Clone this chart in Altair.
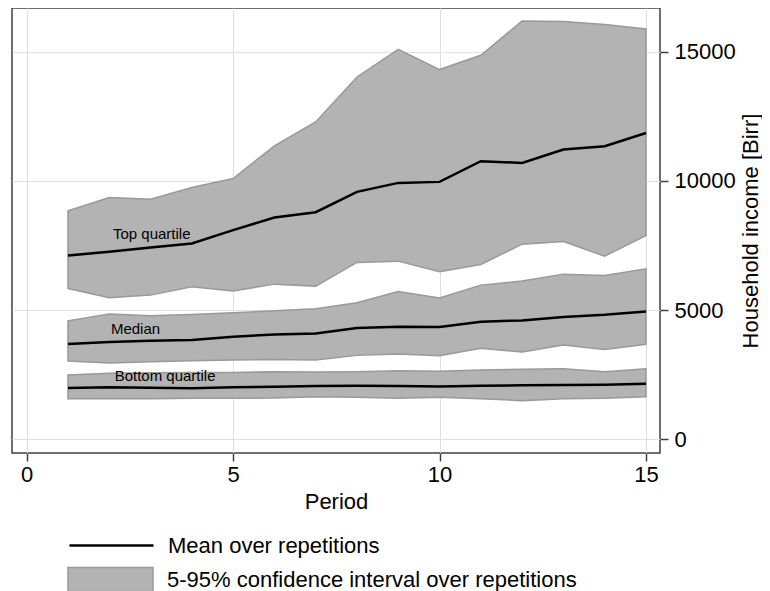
import altair as alt
import pandas as pd

periods = list(range(1, 16))

top_mean = [7115, 7255, 7425, 7580, 8094, 8585, 8790, 9575, 9923, 9962, 10762, 10696, 11214, 11342, 11856]
top_hi = [8840, 9358, 9292, 9745, 10093, 11354, 12282, 14022, 15093, 14308, 14861, 16187, 16164, 16048, 15878]
top_lo = [5839, 5476, 5580, 5901, 5735, 6005, 5928, 6845, 6895, 6481, 6767, 7552, 7657, 7088, 7889]

med_mean = [3685, 3763, 3813, 3840, 3968, 4060, 4099, 4304, 4355, 4343, 4548, 4602, 4729, 4818, 4950]
med_hi = [4587, 4845, 4781, 4834, 4896, 4973, 5050, 5282, 5720, 5465, 5967, 6122, 6392, 6342, 6597]
med_lo = [3028, 2950, 3001, 3040, 3066, 3093, 3066, 3248, 3298, 3233, 3519, 3376, 3647, 3480, 3674]

bot_mean = [1984, 2010, 1997, 1971, 2010, 2036, 2061, 2074, 2061, 2048, 2074, 2088, 2100, 2113, 2151]
bot_hi = [2487, 2552, 2577, 2590, 2590, 2615, 2603, 2615, 2654, 2630, 2680, 2707, 2732, 2615, 2732]
bot_lo = [1570, 1570, 1570, 1585, 1585, 1597, 1648, 1623, 1585, 1623, 1570, 1494, 1570, 1585, 1648]

group_names = ["Top quartile", "Median", "Bottom quartile"]
label_x = [2.09, 2.04, 2.13]
label_y = [7745, 4060, 2266]

mean_label = "Mean over repetitions"
ci_label = "5-95% confidence interval over repetitions"

rows = []
for g, m, lo, hi in zip(group_names,
                        [top_mean, med_mean, bot_mean],
                        [top_lo, med_lo, bot_lo],
                        [top_hi, med_hi, bot_hi]):
    for p, mv, lv, hv in zip(periods, m, lo, hi):
        rows.append({"period": p, "group": g, "mean": mv, "lo": lv, "hi": hv,
                     "mean_label": mean_label, "ci_label": ci_label})
df = pd.DataFrame(rows)
labels_df = pd.DataFrame({"text": group_names, "x": label_x, "y": label_y})

FONT = "Liberation Sans"

xscale = alt.Scale(domain=[-0.356, 15.34], nice=False, zero=False)
yscale = alt.Scale(domain=[-530, 16691], nice=False, zero=False)

x_enc = alt.X("period:Q", scale=xscale,
              axis=alt.Axis(values=[0, 5, 10, 15], title="Period", tickSize=8,
                            labelPadding=3, titlePadding=6, format="d"))
y_axis = alt.Axis(values=[0, 5000, 10000, 15000], orient="right", title="Household income [Birr]",
                  tickSize=8, labelPadding=6, titlePadding=27, titleAngle=270, format="d")

base = alt.Chart(df)

areas = base.mark_area(stroke="#999999", strokeWidth=1.5, opacity=1).encode(
    x=x_enc,
    y=alt.Y("lo:Q", scale=yscale, axis=y_axis),
    y2="hi:Q",
    detail="group:N",
    fill=alt.Fill("ci_label:N",
                  scale=alt.Scale(domain=[ci_label], range=["#b3b3b3"]),
                  legend=alt.Legend(title=None, orient="none", legendX=55, legendY=528,
                                    symbolType="M-1,-0.282H1V0.282H-1Z", symbolSize=7225,
                                    symbolStrokeColor="#999999", symbolStrokeWidth=1.5,
                                    symbolFillColor="#b3b3b3", symbolOpacity=1,
                                    labelFont=FONT, labelFontSize=22, labelColor="black",
                                    labelOffset=13, labelLimit=1000, padding=0, offset=0)),
)

lines = base.mark_line(strokeWidth=2.5).encode(
    x="period:Q",
    y="mean:Q",
    detail="group:N",
    stroke=alt.Stroke("mean_label:N",
                      scale=alt.Scale(domain=[mean_label], range=["black"]),
                      legend=alt.Legend(title=None, orient="none", legendX=56, legendY=494,
                                        symbolType="stroke", symbolSize=7056,
                                        symbolStrokeWidth=2.5, symbolOpacity=1,
                                        labelFont=FONT, labelFontSize=22, labelColor="black",
                                        labelOffset=13, labelLimit=1000, padding=0, offset=0)),
)

texts = alt.Chart(labels_df).mark_text(align="left", baseline="alphabetic", fontSize=15,
                                        font=FONT, color="black").encode(
    x="x:Q", y="y:Q", text="text:N")

chart = alt.layer(areas, lines, texts).properties(
    width=648, height=445,
    padding={"left": 4, "top": 0, "right": 0, "bottom": 0},
).configure_view(
    stroke="#404040", strokeWidth=1.5
).configure_axis(
    grid=True, gridColor="#e0e0e0", gridWidth=1, domain=False,
    tickColor="#404040", tickWidth=1.5,
    labelFont=FONT, labelFontSize=22, labelColor="black",
    titleFont=FONT, titleFontSize=22, titleFontWeight="normal", titleColor="black",
).resolve_scale(stroke="independent", fill="independent")

chart.save("out.html", embed_options={"renderer": "svg", "actions": False})
